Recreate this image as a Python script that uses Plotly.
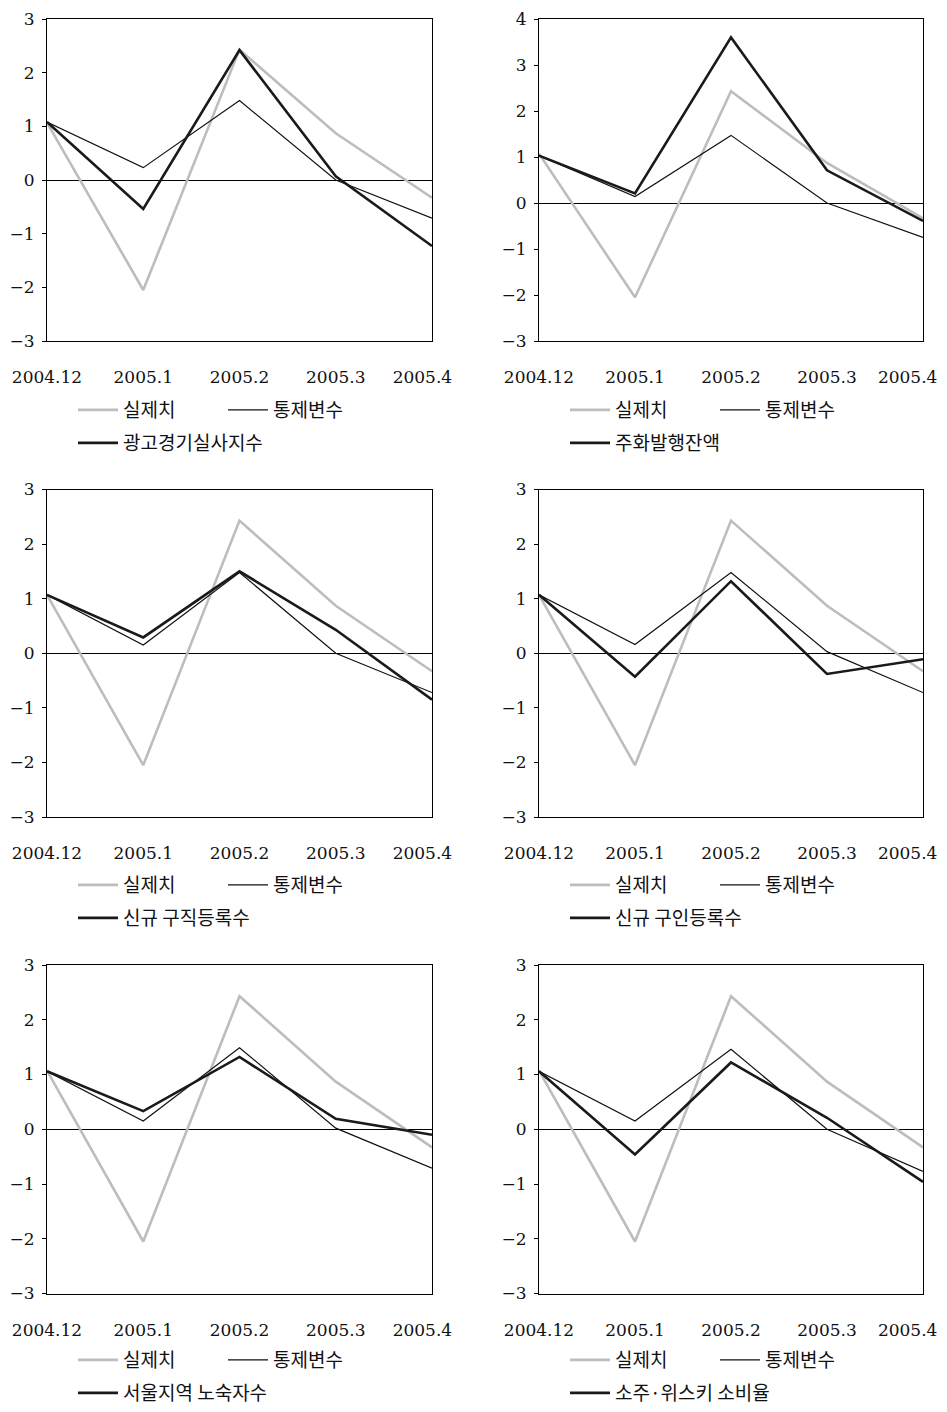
import plotly.graph_objects as go

months = ["2004.12", "2005.1", "2005.2", "2005.3", "2005.4"]
y_ticks = [-3, -2, -1, 0, 1, 2, 3, 4]

actual = [1.07, -2.05, 2.43, 0.87, -0.33]

control_1 = [1.08, 0.23, 1.48, 0.00, -0.71]
ad_index = [1.08, -0.54, 2.42, 0.07, -1.23]

control_2 = [1.03, 0.14, 1.47, 0.00, -0.75]
coins = [1.03, 0.21, 3.60, 0.71, -0.39]

control_3 = [1.07, 0.15, 1.48, 0.00, -0.72]
job_seekers = [1.07, 0.29, 1.50, 0.43, -0.85]

control_4 = [1.07, 0.16, 1.48, 0.03, -0.72]
job_offers = [1.07, -0.43, 1.32, -0.38, -0.11]

control_5 = [1.06, 0.15, 1.49, 0.02, -0.71]
homeless = [1.06, 0.33, 1.32, 0.19, -0.10]

control_6 = [1.06, 0.15, 1.46, 0.00, -0.77]
liquor = [1.06, -0.46, 1.22, 0.21, -0.96]

name_actual = "실제치"
name_control = "통제변수"
var_names = ["광고경기실사지수", "주화발행잔액", "신규 구직등록수",
             "신규 구인등록수", "서울지역 노숙자수", "소주·위스키 소비율"]
controls = [control_1, control_2, control_3, control_4, control_5, control_6]
variables = [ad_index, coins, job_seekers, job_offers, homeless, liquor]
y_ranges = [[-3, 3], [-3, 4], [-3, 3], [-3, 3], [-3, 3], [-3, 3]]

# the page body adds an 8px margin on each side, so the figure sits at (8, 8) on screen
OFF = 8
W, H = 947 - 2 * OFF, 1412 - 2 * OFF


def px_x(sx):
    return (sx - OFF) / W


def px_y(sy):
    return 1 - (sy - OFF) / H


col_x = [(px_x(47), px_x(432)), (px_x(539), px_x(923))]
row_y = [(px_y(341), px_y(19)), (px_y(817), px_y(489.5)), (px_y(1293.5), px_y(965))]
leg_x = [px_x(73), px_x(565)]
leg_y = [(px_y(410), px_y(443)), (px_y(885), px_y(918)), (px_y(1360), px_y(1393))]

num_font = dict(family="DejaVu Serif", size=17, color="#111")
kor_font = dict(family="Noto Sans CJK KR", size=19, color="#111")

# label positions along the category axis (last label nudged inward to stay on the page)
label_pos = [[0, 1, 2, 3, 3.9], [0, 1, 2, 3, 3.84]]

fig = go.Figure()
layout = dict(width=W, height=H, margin=dict(l=0, r=0, t=0, b=0, autoexpand=False),
              paper_bgcolor="white", plot_bgcolor="white", showlegend=True)
shapes = []

for i in range(6):
    r, c = divmod(i, 2)
    ax = "" if i == 0 else str(i + 1)
    la = "legend" if i == 0 else f"legend{2 * i + 1}"
    lb = f"legend{2 * i + 2}"
    xa, ya = "x" + ax, "y" + ax
    fig.add_trace(go.Scatter(x=months, y=actual, name=name_actual, mode="lines",
                             line=dict(color="#bdbdbd", width=2.6),
                             xaxis=xa, yaxis=ya, legend=la))
    fig.add_trace(go.Scatter(x=months, y=controls[i], name=name_control, mode="lines",
                             line=dict(color="#111111", width=1.2),
                             xaxis=xa, yaxis=ya, legend=la))
    fig.add_trace(go.Scatter(x=months, y=variables[i], name=var_names[i], mode="lines",
                             line=dict(color="#1a1a1a", width=2.6),
                             xaxis=xa, yaxis=ya, legend=lb))
    yr = y_ranges[i]
    layout["xaxis" + ax] = dict(domain=col_x[c], anchor=ya, type="category",
                                categoryorder="array", categoryarray=months,
                                range=[0, len(months) - 1], automargin=False,
                                tickmode="array", tickvals=label_pos[c], ticktext=months,
                                showline=True, mirror=True, linecolor="black", linewidth=1,
                                ticks="", showgrid=False, zeroline=False,
                                tickfont=num_font, ticklabelstandoff=21,
                                ticklabeloverflow="allow")
    layout["yaxis" + ax] = dict(domain=row_y[r], anchor=xa, range=yr, automargin=False,
                                tickvals=[v for v in y_ticks if yr[0] <= v <= yr[1]],
                                ticks="outside", ticklen=4, tickcolor="black",
                                showline=True, mirror=True, linecolor="black", linewidth=1,
                                showgrid=False, zeroline=True, zerolinecolor="black",
                                zerolinewidth=1, tickfont=num_font, ticklabelstandoff=4,
                                ticklabeloverflow="allow")
    common = dict(orientation="h", xanchor="left", yanchor="middle",
                  itemwidth=40, font=kor_font, bgcolor="rgba(0,0,0,0)",
                  borderwidth=0, traceorder="normal")
    layout[la] = dict(x=leg_x[c], y=leg_y[r][0], entrywidth=95,
                      entrywidthmode="pixels", **common)
    layout[lb] = dict(x=leg_x[c], y=leg_y[r][1], **common)
    for m in months[1:-1]:
        shapes.append(dict(type="line", xref=xa, yref=ya, x0=m, x1=m,
                           ysizemode="pixel", yanchor=0, y0=0, y1=7,
                           line=dict(color="black", width=1)))

layout["shapes"] = shapes
fig.update_layout(**layout)
fig.write_html("out.html")
